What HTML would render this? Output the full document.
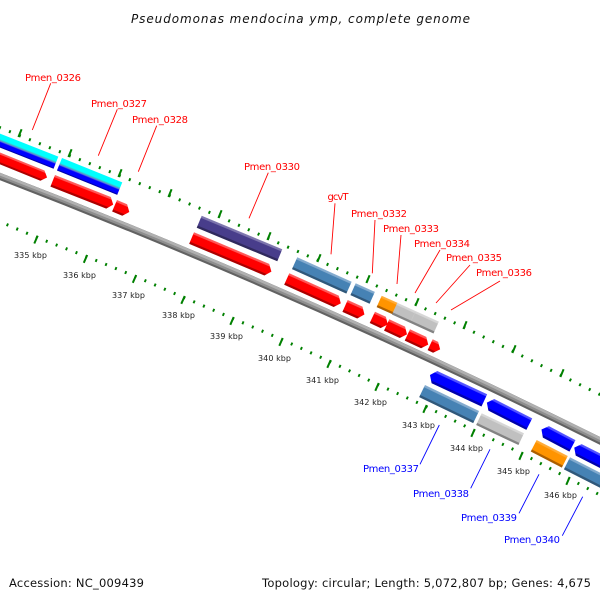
<!DOCTYPE html>
<html><head><meta charset="utf-8"><style>
html,body{margin:0;padding:0;background:#fff}
svg{display:block}
text{font-family:"DejaVu Sans","Liberation Sans",sans-serif}
.r{font-size:10px;fill:#f00}
.b{font-size:10px;fill:#00f}
.k{font-size:8px;fill:#222}
.f{font-size:11.5px;fill:#111}
</style></head><body>
<svg width="600" height="600" viewBox="0 0 600 600" xmlns="http://www.w3.org/2000/svg">
<defs>
<linearGradient id="red" x1="0" y1="0" x2="0" y2="1"><stop offset="0" stop-color="#ff6060"/><stop offset=".16" stop-color="#ff5050"/><stop offset=".2" stop-color="#f00"/><stop offset=".8" stop-color="#f00"/><stop offset=".84" stop-color="#b00000"/><stop offset="1" stop-color="#a80000"/></linearGradient>
<linearGradient id="blu" x1="0" y1="0" x2="0" y2="1"><stop offset="0" stop-color="#5858ff"/><stop offset=".16" stop-color="#4c4cff"/><stop offset=".2" stop-color="#00f"/><stop offset=".8" stop-color="#00f"/><stop offset=".84" stop-color="#0000b0"/><stop offset="1" stop-color="#0000a8"/></linearGradient>
<linearGradient id="ste" x1="0" y1="0" x2="0" y2="1"><stop offset="0" stop-color="#86add0"/><stop offset=".16" stop-color="#7fa7cc"/><stop offset=".2" stop-color="#4682b4"/><stop offset=".8" stop-color="#4682b4"/><stop offset=".84" stop-color="#31597c"/><stop offset="1" stop-color="#2e5678"/></linearGradient>
<linearGradient id="pur" x1="0" y1="0" x2="0" y2="1"><stop offset="0" stop-color="#8079b0"/><stop offset=".16" stop-color="#7a72ab"/><stop offset=".2" stop-color="#483d8b"/><stop offset=".8" stop-color="#483d8b"/><stop offset=".84" stop-color="#312a60"/><stop offset="1" stop-color="#2e285a"/></linearGradient>
<linearGradient id="gra" x1="0" y1="0" x2="0" y2="1"><stop offset="0" stop-color="#d8d8d8"/><stop offset=".16" stop-color="#d4d4d4"/><stop offset=".2" stop-color="#c0c0c0"/><stop offset=".8" stop-color="#c0c0c0"/><stop offset=".84" stop-color="#858585"/><stop offset="1" stop-color="#808080"/></linearGradient>
<linearGradient id="ora" x1="0" y1="0" x2="0" y2="1"><stop offset="0" stop-color="#ffb040"/><stop offset=".16" stop-color="#ffa830"/><stop offset=".2" stop-color="#ff9400"/><stop offset=".8" stop-color="#ff9400"/><stop offset=".84" stop-color="#b06000"/><stop offset="1" stop-color="#a85c00"/></linearGradient>
<linearGradient id="cya" x1="0" y1="0" x2="0" y2="1"><stop offset="0" stop-color="#0ff"/><stop offset=".38" stop-color="#0ff"/><stop offset=".46" stop-color="#3fbfc8"/><stop offset=".54" stop-color="#5f78d8"/><stop offset=".62" stop-color="#00f"/><stop offset=".9" stop-color="#00f"/><stop offset=".93" stop-color="#0000b0"/><stop offset="1" stop-color="#0000a8"/></linearGradient>
</defs>

<!-- title -->
<text x="131" y="23" font-size="12px" font-style="italic" fill="#111" textLength="339" lengthAdjust="spacing">Pseudomonas mendocina ymp, complete genome</text>

<!-- tick lines: minor -->
<polyline points="-30,115.5 19.1,135.4 69.1,155.4 119.1,175.4 169.1,195.4 219.1,216.4 268.1,238.4 318.1,260.4 367.1,281.4 416.1,304.4 464.1,327.4 513.1,351.4 561.1,375.4 609,399" fill="none" stroke="#008000" stroke-width="3" pathLength="65" stroke-dasharray="0.18 0.82" stroke-dashoffset="0.09"/>
<polyline points="-12.1,216.5 36.9,237.5 86.4,256.5 135.4,276.5 183.9,297.5 232.9,318.5 281.9,339.5 329.9,361.5 377.9,384.5 425.9,406.5 473.9,430.5 521.9,453.5 568.9,478.5 615.9,503.5" fill="none" stroke="#008000" stroke-width="3" pathLength="65" stroke-dasharray="0.18 0.82" stroke-dashoffset="0.09"/>
<!-- major ticks -->
<path fill="none" stroke="#008000" stroke-width="2" d="M18.4 137L21.6 129.2M68.4 157L71.6 149.2M118.4 177L121.6 169.2M168.4 197L171.6 189.2M218.4 218L221.6 210.2M267.4 240L270.6 232.2M317.4 262L320.6 254.2M366.4 283L369.6 275.2M415.4 306L418.6 298.2M463.4 329L466.6 321.2M512.4 353L515.6 345.2M560.4 377L563.6 369.2M34.3 243.5L37.7 235.7M83.8 262.8L87.2 255M132.8 282.8L136.2 275M181.3 303.8L184.7 296M230.3 324.8L233.7 317M279.3 345.8L282.7 338M327.3 367.8L330.7 360M375.3 390.8L378.7 383M423.3 412.8L426.7 405M471.3 436.8L474.7 429M519.3 459.8L522.7 452M566.3 484.8L569.7 477"/>

<!-- backbone -->
<path d="M-5 174.6Q300 291.7 605 443.4" fill="none" stroke="#626262" stroke-width="7"/>
<path transform="translate(.4 -1)" d="M-5 174.6Q300 291.7 605 443.4" fill="none" stroke="#8e8e8e" stroke-width="5"/>
<path transform="translate(.8 -2)" d="M-5 174.6Q300 291.7 605 443.4" fill="none" stroke="#b0b0b0" stroke-width="2.6"/>

<!-- upper row genes -->
<rect transform="translate(-6.8 131) rotate(21.5)" width="70" height="13" fill="url(#cya)"/>
<rect transform="translate(62 158) rotate(22)" width="65" height="13.5" fill="url(#cya)"/>
<rect transform="translate(201.7 215.7) rotate(22.6)" width="87.3" height="13" fill="url(#pur)"/>
<rect transform="translate(297.3 257.3) rotate(24.2)" width="59.6" height="13" fill="url(#ste)"/>
<rect transform="translate(355.7 283.3) rotate(24)" width="21" height="13" fill="url(#ste)"/>
<rect transform="translate(381.7 295.7) rotate(24)" width="17.5" height="12.5" fill="url(#ora)"/>
<rect transform="translate(397.3 302.7) rotate(24.5)" width="45.7" height="13" fill="url(#gra)"/>
<path d="M415.2 312L411.4 320.4" stroke="#c8c8c8" stroke-width="0.6" fill="none"/>

<!-- red arrows -->
<path transform="translate(-6.5 149.9) rotate(22)" d="M0 0H55L60 5.5 55 11H0z" fill="url(#red)"/>
<path transform="translate(55 175) rotate(21.5)" d="M0 0H60L65 6.25 60 12.5H0z" fill="url(#red)"/>
<path transform="translate(117 200) rotate(23)" d="M0 0H11L16 6.25 11 12.5H0z" fill="url(#red)"/>
<path transform="translate(194 232.3) rotate(22.8)" d="M0 0H81.6L86.6 6.25 81.6 12.5H0z" fill="url(#red)"/>
<path transform="translate(289.3 273.3) rotate(24.3)" d="M0 0H54.3L59.3 6.25 54.3 12.5H0z" fill="url(#red)"/>
<path transform="translate(347.7 300) rotate(24)" d="M0 0H16.2L21.2 6.5 16.2 13H0z" fill="url(#red)"/>
<path transform="translate(375 311.7) rotate(25)" d="M0 0H12L17 6.25 12 12.5H0z" fill="url(#red)"/>
<path transform="translate(389.3 319.3) rotate(25)" d="M0 0H17.4L22.4 6.25 17.4 12.5H0z" fill="url(#red)"/>
<path transform="translate(410 329.3) rotate(25)" d="M0 0H18L23 6.25 18 12.5H0z" fill="url(#red)"/>
<path transform="translate(432.7 339.3) rotate(25)" d="M0 0H6L11 6 6 12H0z" fill="url(#red)"/>

<!-- lower right genes -->
<path transform="translate(432.8 368.9) rotate(25)" d="M5 0H60V13.5H5L0 6.75z" fill="url(#blu)"/>
<path transform="translate(489.8 396.8) rotate(26.9)" d="M5 0H47.6V13H5L0 6.5z" fill="url(#blu)"/>
<path transform="translate(544.5 423.8) rotate(27.7)" d="M5 0H35V13H5L0 6.5z" fill="url(#blu)"/>
<path transform="translate(577.2 441.8) rotate(27)" d="M5 0H60V13H5L0 6.5z" fill="url(#blu)"/>
<rect transform="translate(425 385) rotate(25.7)" width="60" height="13.5" fill="url(#ste)"/>
<rect transform="translate(481.7 413.3) rotate(25.3)" width="46.8" height="13" fill="url(#gra)"/>
<rect transform="translate(536.7 440) rotate(27.3)" width="35" height="13" fill="url(#ora)"/>
<rect transform="translate(570 457.3) rotate(27)" width="50" height="13.5" fill="url(#ste)"/>

<!-- connectors -->
<path fill="none" stroke="#f00" stroke-width="0.9" d="M50.7 83.3L32.3 130M117.3 109.3L98.3 155.7M156.7 125.7L138.3 171.7M268.3 172.7L249 218.3M335 203.3L331 254.3M375 220L372.3 273.3M401 235L397 284M440 250L415 293M470 265L436 303M500 281L451 310"/>
<path fill="none" stroke="#00f" stroke-width="0.9" d="M439.3 425L420 464.3M490 449.3L470.7 488.3M539 474.3L519 513.3M582.7 496.7L562.3 535.7"/>

<!-- red labels -->
<text class="r" x="25" y="81" textLength="56">Pmen_0326</text>
<text class="r" x="91" y="107" textLength="56">Pmen_0327</text>
<text class="r" x="132" y="123" textLength="56">Pmen_0328</text>
<text class="r" x="244" y="170" textLength="56">Pmen_0330</text>
<text class="r" x="327.5" y="200" textLength="21">gcvT</text>
<text class="r" x="351" y="217" textLength="56">Pmen_0332</text>
<text class="r" x="383" y="232" textLength="56">Pmen_0333</text>
<text class="r" x="414" y="247" textLength="56">Pmen_0334</text>
<text class="r" x="446" y="261" textLength="56">Pmen_0335</text>
<text class="r" x="476" y="276" textLength="56">Pmen_0336</text>

<!-- blue labels -->
<text class="b" x="363" y="472" textLength="56">Pmen_0337</text>
<text class="b" x="413" y="497" textLength="56">Pmen_0338</text>
<text class="b" x="461" y="521" textLength="56">Pmen_0339</text>
<text class="b" x="504" y="543" textLength="56">Pmen_0340</text>

<!-- kbp labels -->
<text class="k" x="14" y="258" textLength="33">335 kbp</text>
<text class="k" x="63" y="278" textLength="33">336 kbp</text>
<text class="k" x="112" y="298" textLength="33">337 kbp</text>
<text class="k" x="162" y="318" textLength="33">338 kbp</text>
<text class="k" x="210" y="339" textLength="33">339 kbp</text>
<text class="k" x="258" y="361" textLength="33">340 kbp</text>
<text class="k" x="306" y="383" textLength="33">341 kbp</text>
<text class="k" x="354" y="405" textLength="33">342 kbp</text>
<text class="k" x="402" y="428" textLength="33">343 kbp</text>
<text class="k" x="450" y="451" textLength="33">344 kbp</text>
<text class="k" x="497" y="474" textLength="33">345 kbp</text>
<text class="k" x="544" y="498" textLength="33">346 kbp</text>

<!-- footer -->
<text class="f" x="9" y="587" textLength="135">Accession: NC_009439</text>
<text class="f" x="262" y="587" textLength="329">Topology: circular; Length: 5,072,807 bp; Genes: 4,675</text>
</svg>
</body></html>
